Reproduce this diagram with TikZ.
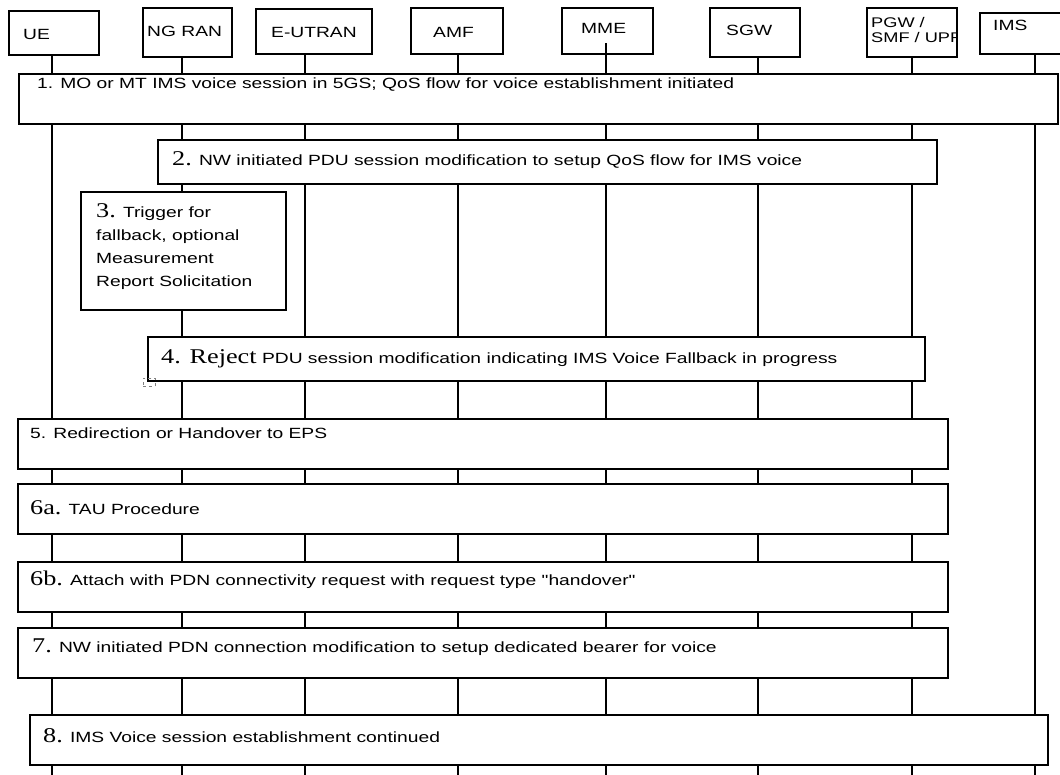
\documentclass[tikz,border=0pt]{standalone}
\usepackage{fontspec}
\newfontfamily\lblfont{Liberation Sans}[FakeStretch=1.3]
\newfontfamily\numfont{Liberation Serif}[FakeStretch=1.25]
\usetikzlibrary{positioning}
\newcommand{\stepno}[1]{{\numfont\fontsize{21}{24}\selectfont #1}}

\begin{document}
\begin{tikzpicture}[
  x=1pt, y=-1pt,
  entity/.style={draw, line width=1.5pt, anchor=north west, inner sep=0pt},
  stepbox/.style={draw, line width=2pt, fill=white, anchor=north west, inner sep=0pt},
  life/.style={line width=1.6pt},
  lbl/.style={anchor=base west, inner sep=0pt, font=\lblfont\fontsize{14.8}{15}\selectfont}
]
\clip (0,0) rectangle (1060,774);

% header boxes
\node[entity, minimum width=90, minimum height=44] (ue) at (8,10) {};
\node[entity, minimum width=89, minimum height=49] (ngran) at (142,7) {};
\node[entity, minimum width=116, minimum height=45] (eutran) at (255,8) {};
\node[entity, minimum width=92, minimum height=46] (amf) at (410,7) {};
\node[entity, minimum width=91, minimum height=46] (mme) at (561,7) {};
\node[entity, minimum width=90, minimum height=49] (sgw) at (709,7) {};
\node[entity, minimum width=90, minimum height=49] (pgw) at (866,7) {};
\node[entity, minimum width=100, minimum height=41] (ims) at (979,12) {};

\node[lbl] (ue-t) at (23,39) {UE};
\node[lbl] (ngran-t) at (147,36) {NG RAN};
\node[lbl] (eutran-t) at (271,37) {E-UTRAN};
\node[lbl] (amf-t) at (433,37) {AMF};
\node[lbl] (mme-t) at (581,33) {MME};
\node[lbl] (sgw-t) at (726,35) {SGW};
\begin{scope}
  \clip (pgw.south west) rectangle (pgw.north east);
  \node[lbl, align=left, anchor=north west, font=\lblfont\fontsize{14}{15}\selectfont] (pgw-t) at (871,17) {PGW /\\SMF / UPF};
\end{scope}
\node[lbl] (ims-t) at (993,30) {IMS};

% lifelines
\coordinate (ue-b) at (52,780);
\coordinate (ngran-b) at (182,780);
\coordinate (eutran-b) at (305,780);
\coordinate (amf-b) at (458,780);
\coordinate (mme-a) at (606,43);
\coordinate (mme-b) at (606,780);
\coordinate (sgw-b) at (758,780);
\coordinate (pgw-b) at (912,780);
\coordinate (ims-b) at (1035,780);
\draw[life] (ue.south -| ue-b) -- (ue-b);
\draw[life] (ngran.south -| ngran-b) -- (ngran-b);
\draw[life] (eutran.south -| eutran-b) -- (eutran-b);
\draw[life] (amf.south -| amf-b) -- (amf-b);
\draw[life] (mme-a) -- (mme-b);
\draw[life] (sgw.south -| sgw-b) -- (sgw-b);
\draw[life] (pgw.south -| pgw-b) -- (pgw-b);
\draw[life] (ims.south -| ims-b) -- (ims-b);

% steps
\node[stepbox, minimum width=1039, minimum height=50] (s1) at (18,73) {};
\node[stepbox, minimum width=779, minimum height=44] (s2) at (157,139) {};
\node[stepbox, minimum width=205, minimum height=118] (s3) at (80,191) {};
\node[stepbox, minimum width=777, minimum height=44] (s4) at (147,336) {};
\node[draw=gray, dashed, line width=0.5pt, minimum width=12, minimum height=8, anchor=north west, inner sep=0pt] (mark) at (143,378) {};
\node[stepbox, minimum width=930, minimum height=50] (s5) at (17,418) {};
\node[stepbox, minimum width=930, minimum height=50] (s6a) at (17,483) {};
\node[stepbox, minimum width=930, minimum height=50] (s6b) at (17,561) {};
\node[stepbox, minimum width=930, minimum height=50] (s7) at (17,627) {};
\node[stepbox, minimum width=1018, minimum height=50] (s8) at (29,714) {};

\node[lbl] (s1-t) at (37,88) {1. MO or MT IMS voice session in 5GS; QoS flow for voice establishment initiated};
\node[lbl] (s2-t) at (172,165) {\stepno{2.} NW initiated PDU session modification to setup QoS flow for IMS voice};
\node[lbl, align=left, anchor=north west, font=\lblfont\fontsize{14.8}{23}\selectfont] (s3-t) at (96,203) {\stepno{3.} Trigger for\\fallback, optional\\Measurement\\Report Solicitation};
\node[lbl] (s4-t) at (161,363) {\stepno{4. Reject} PDU session modification indicating IMS Voice Fallback in progress};
\node[lbl] (s5-t) at (30,438) {5. Redirection or Handover to EPS};
\node[lbl] (s6a-t) at (30,514) {\stepno{6a.} TAU Procedure};
\node[lbl] (s6b-t) at (30,585) {\stepno{6b.} Attach with PDN connectivity request with request type "handover"};
\node[lbl] (s7-t) at (32,652) {\stepno{7.} NW initiated PDN connection modification to setup dedicated bearer for voice};
\node[lbl] (s8-t) at (43,742) {\stepno{8.} IMS Voice session establishment continued};
\end{tikzpicture}
\end{document}
